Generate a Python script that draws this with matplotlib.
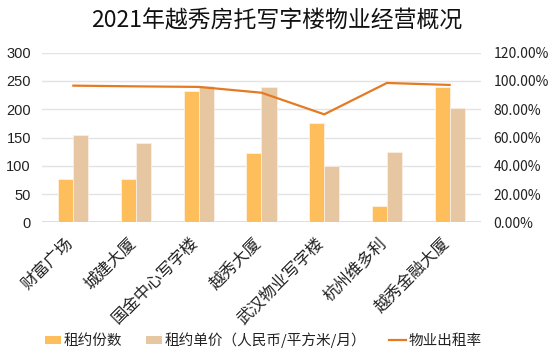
import matplotlib
matplotlib.use("Agg")
import matplotlib.pyplot as plt
import numpy as np
from matplotlib.patches import Patch
from matplotlib.lines import Line2D
from matplotlib.ticker import FuncFormatter
from matplotlib.transforms import ScaledTranslation

plt.rcParams['font.family'] = ['Noto Sans CJK SC', 'DejaVu Sans']

title = "2021年越秀房托写字楼物业经营概况"
categories = ["财富广场", "城建大厦", "国金中心写字楼", "越秀大厦", "武汉物业写字楼", "杭州维多利", "越秀金融大厦"]
lease_count = [76, 77, 233, 123, 175, 29, 239]
unit_price = [154, 141, 242, 239, 100, 124, 202]
occupancy = [0.967, 0.962, 0.958, 0.917, 0.764, 0.986, 0.972]
series_names = ["租约份数", "租约单价（人民币/平方米/月）", "物业出租率"]
left_ticks = [0, 50, 100, 150, 200, 250, 300]
right_ticks = [0.0, 0.2, 0.4, 0.6, 0.8, 1.0, 1.2]

c_orange = "#FFBE5C"
c_tan = "#E6C7A2"
c_line = "#E57A22"
grid_c = "#E3E3E3"

fig = plt.figure(figsize=(5.54, 3.55), dpi=100)
ax = fig.add_axes([0.0758, 0.3738, 0.7924, 0.4777])
ax2 = ax.twinx()

x = np.arange(len(categories))
w = 0.24
ax.bar(x - w / 2, lease_count, w, color=c_orange, edgecolor="#FFF2E0", linewidth=0.6, zorder=3)
ax.bar(x + w / 2, unit_price, w, color=c_tan, edgecolor="#F8EEE2", linewidth=0.6, zorder=3)
ax2.plot(x, occupancy, color=c_line, linewidth=1.6, zorder=4)

ax.set_xlim(-0.5, len(categories) - 0.5)
ax.set_ylim(0, 300)
ax2.set_ylim(0, 1.2)
ax.set_yticks(left_ticks)
ax2.set_yticks(right_ticks)
ax.yaxis.grid(True, color=grid_c, linewidth=1.0, zorder=0)
ax.set_axisbelow(True)
for a in (ax, ax2):
    for s in a.spines.values():
        s.set_visible(False)
ax.axhline(0, color="#D9D9D9", linewidth=1.2, zorder=2)

ax.tick_params(axis='y', length=0, pad=8, labelsize=10.5, labelcolor="#222222")
for lab in ax.get_yticklabels():
    lab.set_family(['Liberation Sans', 'DejaVu Sans'])
ax2.tick_params(axis='y', length=0, pad=9, labelsize=10, labelcolor="#222222")
ax2.yaxis.set_major_formatter(FuncFormatter(lambda v, p: f"{v*100:.2f}%"))
ax.set_xticks(x)
ax.set_xticklabels(categories, rotation=45, ha='right', va='center', rotation_mode='anchor',
                   fontsize=11.8, color="#222222")
ax.tick_params(axis='x', length=0, pad=13)
off = ScaledTranslation(-0.03, 0, fig.dpi_scale_trans)
for lab in ax.get_xticklabels():
    lab.set_transform(lab.get_transform() + off)

fig.text(0.5, 0.941, title, ha='center', va='center', fontsize=16.5, fontweight='medium', color="#111111")

handles = [Patch(facecolor=c_orange, edgecolor='none'),
           Patch(facecolor=c_tan, edgecolor='none'),
           Line2D([0], [0], color=c_line, linewidth=1.6)]
fig.legend(handles, series_names, loc='center', bbox_to_anchor=(0.475, 0.042), ncol=3,
           frameon=False, fontsize=10.5, handlelength=1.1, handleheight=0.45,
           handletextpad=0.2, columnspacing=1.6, labelcolor="#222222")

fig.savefig("out.png", dpi=100)
